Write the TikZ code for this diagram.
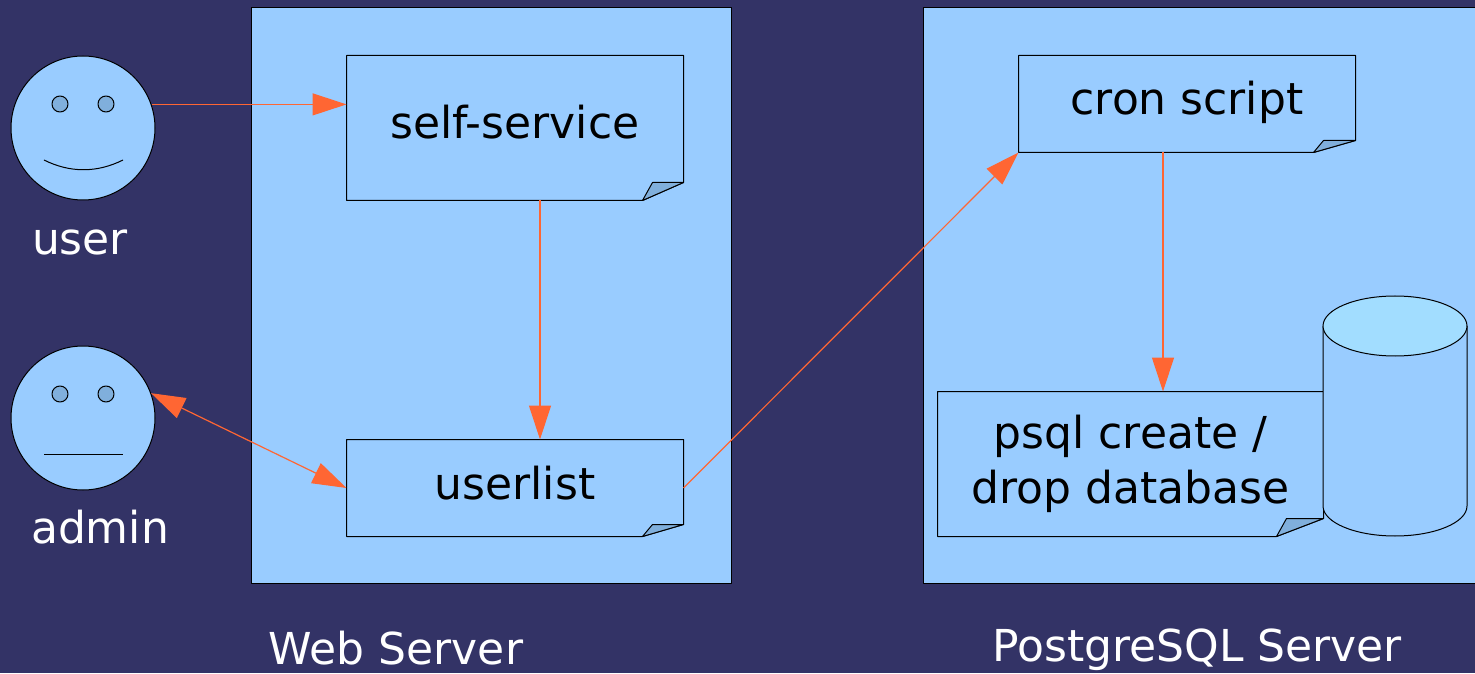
\documentclass[tikz,border=0pt]{standalone}
\usepackage{fontspec}
\setmainfont{DejaVu Sans}
\usetikzlibrary{arrows.meta}
\definecolor{navy}{HTML}{333366}
\definecolor{boxblue}{HTML}{99CCFF}
\definecolor{foldblue}{HTML}{80AFDC}
\definecolor{topblue}{HTML}{A2DDFF}
\definecolor{flowred}{HTML}{FF6633}
%% Góc gấp của tờ ghi chú: tên nút, rộng, cao
\newcommand{\dogear}[3]{%
	\draw (#1.south west) -- (#1.north west) -- (#1.north east)
	-- ([yshift=#3pt]#1.south east) -- ([xshift=-#2pt]#1.south east) -- cycle;
	\filldraw [fill=foldblue] ([xshift=-#2pt]#1.south east)
	-- ([xshift=-#2pt+10pt, yshift=#3pt]#1.south east)
	-- ([yshift=#3pt]#1.south east) -- cycle;}
\begin{document}
\begin{tikzpicture}[x=1pt, y=1pt, line width=1pt, line join=round,
	>={Triangle[length=34pt, width=22pt]},
	face/.style={circle, draw, fill=boxblue, minimum size=144pt, inner sep=0pt},
	note/.style={fill=boxblue, inner sep=0pt, minimum width=336pt, minimum height=96pt,
		font=\fontsize{44}{55}\selectfont, text height=31pt, text depth=9pt},
	label/.style={text=white, font=\fontsize{44}{52}\selectfont, anchor=base},
	flow/.style={draw=flowred, line width=1.2pt}]
	%% Khung nền
	\fill [navy] (0,0) rectangle (1475,673);
	\useasboundingbox (0,0) rectangle (1475,673);
	%% Hai máy chủ
	\filldraw [fill=boxblue] (251,90) rectangle (731,665);
	\filldraw [fill=boxblue] (923,90) rectangle (1485,665);
	\node [label] (web) at (396,9) {Web Server};
	\node [label] (pg) at (1197,12) {PostgreSQL Server};
	%% Người dùng
	\node [face] (user) at (83,545) {};
	\node [face] (admin) at (83,255) {};
	\foreach \p in {user, admin} {
		\filldraw [fill=foldblue] ([shift={(-23,24)}]\p.center) circle (8)
		([shift={(23,24)}]\p.center) circle (8);
	}
	\draw ([shift={(-39,-32)}]user.center) .. controls ([shift={(-13,-45)}]user.center)
	and ([shift={(14,-45)}]user.center) .. ([shift={(40,-32)}]user.center);
	\draw ([shift={(-39,-36)}]admin.center) -- ([shift={(40,-36)}]admin.center);
	\node [label] (userlbl) at (80,418) {user};
	\node [label] (adminlbl) at (100,130) {admin};
	%% Các tờ ghi chú
	\node [note, minimum height=144pt] (self) at (515,545) {self-service};
	\node [note] (userlist) at (515,185) {userlist};
	\node [note] (cron) at (1187,569) {cron script};
	\node [note, minimum width=385pt, minimum height=144pt, align=center,
		text height=, text depth=] (psql) at (1130.5,209) {psql create /\\drop database};
	\dogear{self}{41}{18}
	\dogear{userlist}{41}{12}
	\dogear{cron}{42}{12}
	\dogear{psql}{47}{18}
	%% Cơ sở dữ liệu
	\filldraw [fill=boxblue] (1323,347) -- (1323,167)
	arc [start angle=180, end angle=360, x radius=72, y radius=30] -- (1467,347);
	\filldraw [fill=topblue] (1395,347) ellipse [x radius=72, y radius=30];
	%% Các mũi tên
	\draw [flow, ->] (user.19) -- (user.19 -| self.west);
	\draw [flow, ->] ([xshift=25pt]self.south) -- ([xshift=25pt]userlist.north);
	\draw [flow, <->] (admin.20) -- (userlist.west);
	\draw [flow, ->] (userlist.east) -- (cron.south west);
	\draw [flow, ->] ([xshift=-24pt]cron.south) -- ([xshift=-24pt]cron.south |- psql.north);
\end{tikzpicture}
\end{document}
